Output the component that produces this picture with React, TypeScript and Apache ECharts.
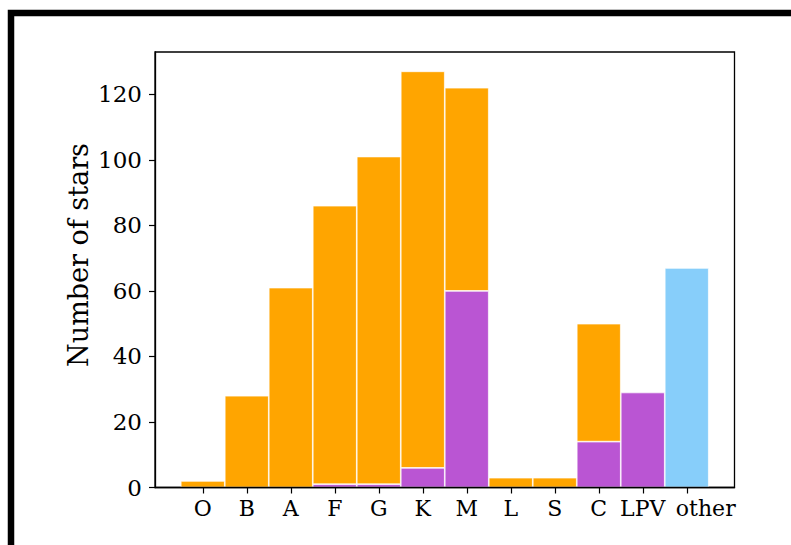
import React, { useEffect, useRef } from "react";
import * as echarts from "echarts";

// Spectral classes along the x axis
const categories = ["O", "B", "A", "F", "G", "K", "M", "L", "S", "C", "LPV", "other"];
// Stars of each class, split into the three stacked groups
const purpleCounts = [0, 0, 0, 1, 1, 6, 60, 0, 0, 14, 29, 0];
const orangeCounts = [2, 28, 61, 85, 100, 121, 62, 3, 3, 36, 0, 0];
const blueCounts = [0, 0, 0, 0, 0, 0, 0, 0, 0, 0, 0, 67];
const yTicks = [0, 20, 40, 60, 80, 100, 120];

const FONT = "DejaVu Serif";
const Y_MAX = 132.9;

// Outer frame (spines + y ticks) and the inner band grid holding the bars
const FRAME = { left: 155, top: 52, width: 579.5, height: 435.5 };
const BAND = 44;
const INNER_LEFT = FRAME.left + (FRAME.width - BAND * categories.length) / 2;

function toData(values: number[]) {
  return values.map((v) => ({
    value: v,
    itemStyle: { borderWidth: v ? 0.7 : 0 },
  }));
}

export default function App() {
  const ref = useRef<HTMLDivElement>(null);

  useEffect(() => {
    if (!ref.current) return;
    const chart = echarts.init(ref.current, null, { renderer: "svg" });
    const bar = (name: string, values: number[], color: string) => ({
      name,
      type: "bar",
      stack: "stars",
      xAxisIndex: 1,
      yAxisIndex: 1,
      barWidth: "100%",
      data: toData(values),
      itemStyle: { color, borderColor: "#ffffff" },
    });
    chart.setOption({
      animation: false,
      backgroundColor: "#ffffff",
      grid: [
        {
          ...FRAME,
          show: true,
          borderColor: "#000000",
          borderWidth: 1.3,
          backgroundColor: "transparent",
        },
        {
          left: INNER_LEFT,
          top: FRAME.top,
          width: BAND * categories.length,
          height: FRAME.height,
        },
      ],
      xAxis: [
        {
          gridIndex: 0,
          type: "value",
          min: 0,
          max: 1,
          z: 5,
          splitLine: { show: false },
          axisLine: { show: true, lineStyle: { color: "#000000", width: 1.3 } },
          axisTick: { show: false },
          axisLabel: { show: false },
        },
        {
          gridIndex: 1,
          type: "category",
          data: categories,
          z: 5,
          axisLine: { show: false },
          axisTick: {
            show: true,
            alignWithLabel: true,
            length: 6,
            lineStyle: { color: "#000000", width: 1.2 },
          },
          axisLabel: {
            interval: 0,
            color: "#000000",
            fontFamily: FONT,
            fontSize: 22,
            margin: 10,
            // the last label sits a little right of its tick
            formatter: (v: string, i: number) =>
              i === categories.length - 1 ? `{shift|${v}}` : v,
            rich: {
              shift: {
                color: "#000000",
                fontFamily: FONT,
                fontSize: 22,
                padding: [0, 0, 0, 38],
              },
            },
          },
        },
      ],
      yAxis: [
        {
          gridIndex: 0,
          type: "value",
          min: 0,
          max: Y_MAX,
          z: 5,
          splitLine: { show: false },
          axisLine: {
            show: true,
            onZero: false,
            lineStyle: { color: "#000000", width: 1.3 },
          },
          axisTick: {
            show: true,
            customValues: yTicks,
            length: 6,
            lineStyle: { color: "#000000", width: 1.2 },
          },
          axisLabel: {
            customValues: yTicks,
            color: "#000000",
            fontFamily: FONT,
            fontSize: 23,
            margin: 13,
          },
        },
        {
          gridIndex: 1,
          type: "value",
          min: 0,
          max: Y_MAX,
          show: false,
        },
      ],
      graphic: [
        {
          type: "rect",
          shape: { x: 11, y: 13, width: 900, height: 700 },
          style: { fill: "none", stroke: "#000000", lineWidth: 6.5 },
          silent: true,
        },
        {
          type: "text",
          x: 78,
          y: 255,
          rotation: Math.PI / 2,
          style: {
            text: "Number of stars",
            fill: "#000000",
            font: `27px "${FONT}"`,
            align: "center",
            verticalAlign: "middle",
          },
        },
      ],
      series: [
        bar("purple", purpleCounts, "#BA55D3"),
        bar("orange", orangeCounts, "#FFA500"),
        bar("blue", blueCounts, "#87CEFA"),
      ],
    });
    return () => chart.dispose();
  }, []);

  return (
    <div
      ref={ref}
      style={{ position: "fixed", left: 0, top: 0, width: 791, height: 545 }}
    />
  );
}
